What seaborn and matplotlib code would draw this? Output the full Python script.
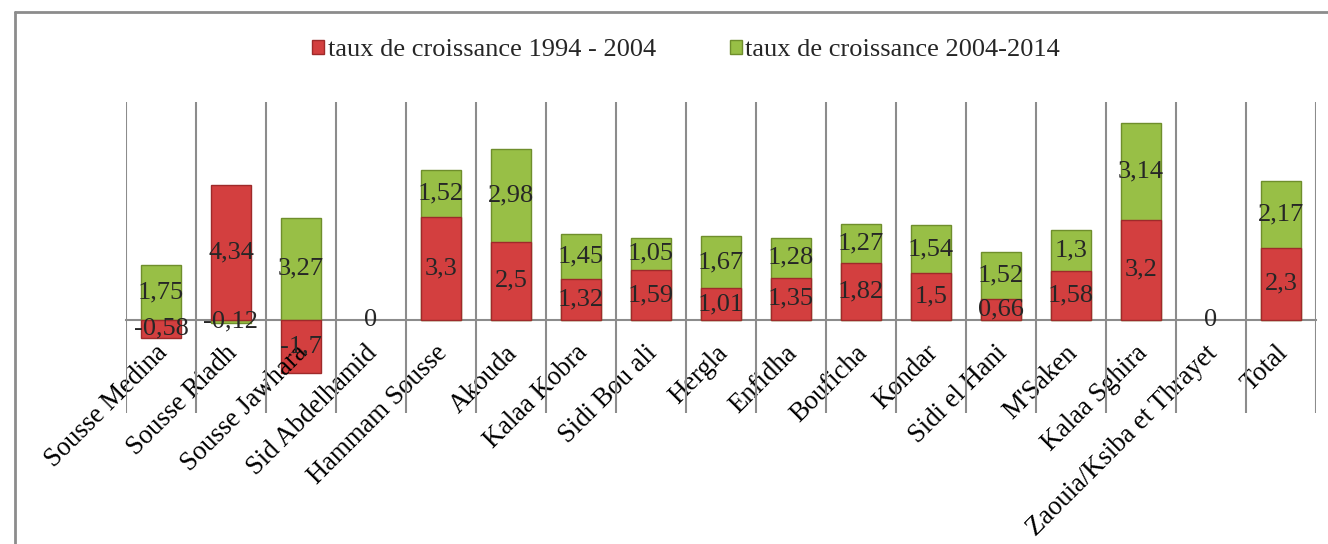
import numpy as np
import pandas as pd
import matplotlib
matplotlib.use("Agg")
import matplotlib.pyplot as plt
import matplotlib.transforms as mtransforms
from matplotlib.lines import Line2D
from matplotlib.patches import Patch
import seaborn as sns

categories = ["Sousse Medina", "Sousse Riadh", "Sousse Jawhara", "Sid Abdelhamid",
              "Hammam Sousse", "Akouda", "Kalaa Kobra", "Sidi Bou ali", "Hergla",
              "Enfidha", "Bouficha", "Kondar", "Sidi el Hani", "M'Saken",
              "Kalaa Sghira", "Zaouia/Ksiba et Thrayet", "Total"]
taux_1994_2004 = [-0.58, 4.34, -1.7, 0, 3.3, 2.5, 1.32, 1.59, 1.01, 1.35, 1.82,
                  1.5, 0.66, 1.58, 3.2, 0, 2.3]
taux_2004_2014 = [1.75, -0.12, 3.27, 0, 1.52, 2.98, 1.45, 1.05, 1.67, 1.28, 1.27,
                  1.54, 1.52, 1.3, 3.14, 0, 2.17]
series_names = ["taux de croissance 1994 - 2004", "taux de croissance 2004-2014"]

RED = "#D33F3F"
RED_EDGE = "#9E2A2A"
GREEN = "#98BF46"
GREEN_EDGE = "#6F8E2C"
GRID = "#8C8C8C"

sns.set_theme(style="white")
plt.rcParams["font.family"] = ["Liberation Serif", "DejaVu Serif"]

fig = plt.figure(figsize=(13.28, 5.44), dpi=100)
ax = fig.add_axes([126 / 1328, 1 - 413 / 544, (1316 - 126) / 1328, (413 - 102) / 544])

red = np.array(taux_1994_2004, dtype=float)
green = np.array(taux_2004_2014, dtype=float)
same_sign = (red * green) > 0
green_base = np.where(same_sign, red, 0.0)
green_top = green_base + green

df = pd.DataFrame({"cat": categories, "red": red, "green_top": green_top})

sns.barplot(data=df, x="cat", y="green_top", color=GREEN, saturation=1,
            width=0.57, edgecolor=GREEN_EDGE, linewidth=1.0, errorbar=None,
            ax=ax, zorder=3)
sns.barplot(data=df, x="cat", y="red", color=RED, saturation=1,
            width=0.57, edgecolor=RED_EDGE, linewidth=1.0, errorbar=None,
            ax=ax, zorder=4)
# zero-height bars leave no visible outline
for p in ax.patches:
    if abs(p.get_height()) < 1e-12:
        p.set_linewidth(0)
        p.set_visible(False)

ax.set_xlim(-0.5, len(categories) - 0.5)
ax.set_ylim(-3, 7)
ax.set_xlabel("")
ax.set_ylabel("")
ax.set_yticks([])

# vertical gridlines at category boundaries
ax.set_xticks(np.arange(-0.5, len(categories), 1.0), minor=True)
ax.grid(which="minor", axis="x", color=GRID, linewidth=1.5, zorder=0)
ax.grid(which="major", axis="both", visible=False)
ax.tick_params(which="both", length=0)
ax.xaxis.set_zorder(6)

for s in ["left", "right", "top"]:
    ax.spines[s].set_visible(False)
ax.spines["bottom"].set_position(("data", 0))
ax.spines["bottom"].set_color(GRID)
ax.spines["bottom"].set_linewidth(1.5)
ax.spines["bottom"].set_zorder(2)

ax.set_xticks(range(len(categories)))
ax.set_xticklabels(categories, rotation=45, ha="right", va="top",
                   rotation_mode="anchor", fontsize=19.2, color="black")
ax.tick_params(axis="x", pad=15)
shift = mtransforms.ScaledTranslation(-6 / 100, 0, fig.dpi_scale_trans)
for lab in ax.get_xticklabels():
    lab.set_transform(lab.get_transform() + shift)


def fmt(v):
    return f"{v:g}".replace(".", ",")


for i in range(len(categories)):
    r, g = red[i], green[i]
    if r == 0 and g == 0:
        ax.text(i, 0, "0", ha="center", va="center", fontsize=19, zorder=7)
        continue
    ax.text(i, r / 2, fmt(r), ha="center", va="center", fontsize=19, zorder=7)
    ax.text(i, green_base[i] + g / 2, fmt(g), ha="center", va="center",
            fontsize=19, zorder=7)

handles = [Patch(facecolor=RED, edgecolor=RED_EDGE, label=series_names[0]),
           Patch(facecolor=GREEN, edgecolor=GREEN_EDGE, label=series_names[1])]
fig.legend(handles=handles, loc="center", bbox_to_anchor=(686 / 1328, 1 - 50 / 544),
           ncol=2, frameon=False, fontsize=19, handlelength=0.45, handleheight=0.45,
           handletextpad=0.15, columnspacing=2.8)

# outer chart border (top and left)
fig.add_artist(Line2D([15 / 1328, 1.0], [1 - 12 / 544, 1 - 12 / 544],
                      transform=fig.transFigure, color=GRID, linewidth=2))
fig.add_artist(Line2D([15 / 1328, 15 / 1328], [0, 1 - 12 / 544],
                      transform=fig.transFigure, color=GRID, linewidth=2))

fig.savefig("out.png", dpi=100)
